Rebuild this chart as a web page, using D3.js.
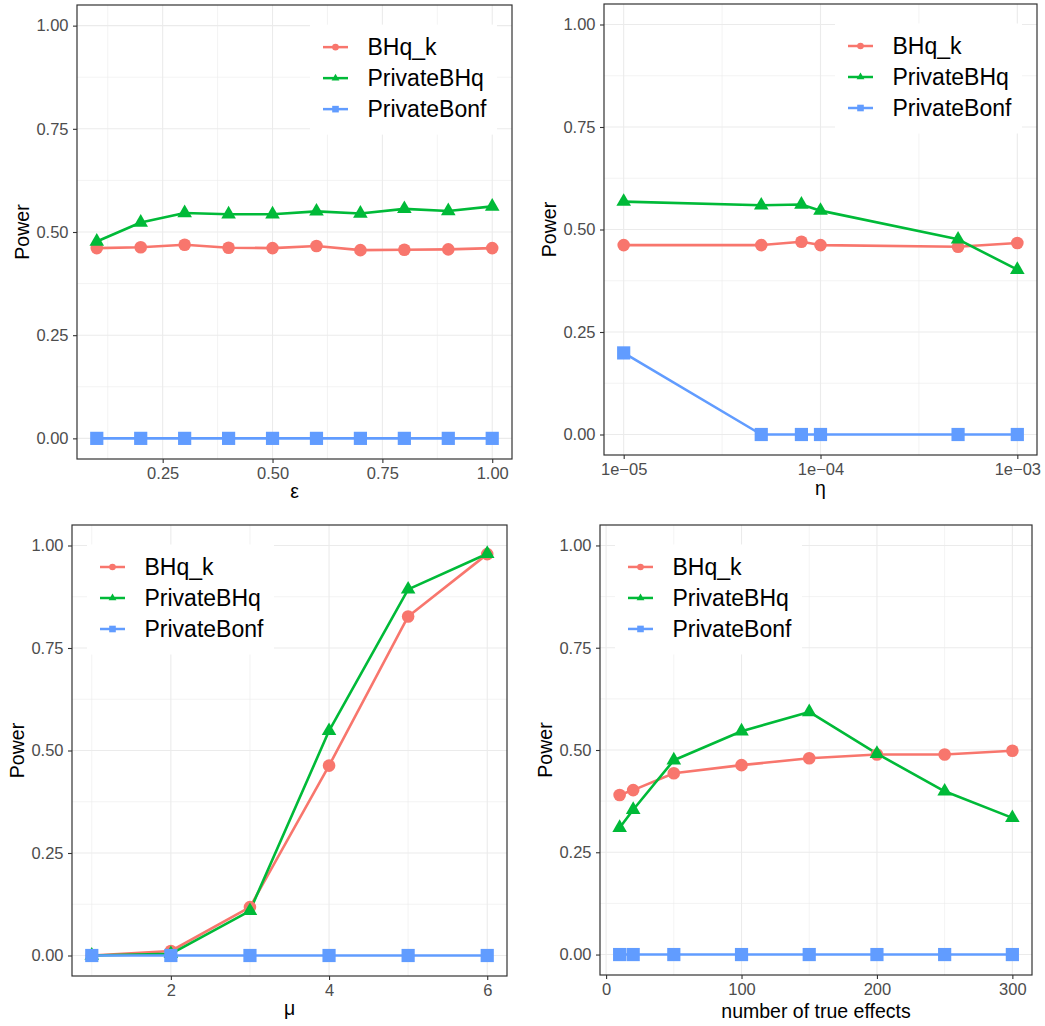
<!DOCTYPE html>
<html>
<head>
<meta charset="utf-8">
<script src="https://d3js.org/d3.v7.min.js"></script>
<style>
  body { margin: 0; background: #fff; }
  text { font-family: "Liberation Sans", Arial, Helvetica, sans-serif; }
</style>
</head>
<body>
<div id="vis"></div>

<script>

// series shared by all four panels
var seriesNames = ["BHq_k", "PrivateBHq", "PrivateBonf"];
var seriesColors = ["#F8766D", "#00BA38", "#619CFF"];
var seriesShapes = ["circle", "triangle", "square"];

// power axis
var powerTicks = [0, 0.25, 0.5, 0.75, 1];
var powerLabels = ["0.00", "0.25", "0.50", "0.75", "1.00"];

// panel 1 : epsilon
var epsX = [0.1, 0.2, 0.3, 0.4, 0.5, 0.6, 0.7, 0.8, 0.9, 1.0];
var epsBHqK = [0.461, 0.463, 0.469, 0.462, 0.461, 0.466, 0.456, 0.457, 0.458, 0.461];
var epsPrivateBHq = [0.477, 0.523, 0.546, 0.543, 0.543, 0.550, 0.545, 0.556, 0.551, 0.562];
var epsPrivateBonf = [0, 0, 0, 0, 0, 0, 0, 0, 0, 0];
var epsTicks = [0.25, 0.5, 0.75, 1.0];
var epsTickLabels = ["0.25", "0.50", "0.75", "1.00"];

// panel 2 : eta (log axis)
var etaX = [1e-5, 5e-5, 8e-5, 1e-4, 5e-4, 1e-3];
var etaBHqK = [0.462, 0.462, 0.470, 0.462, 0.458, 0.467];
var etaPrivateBHq = [0.568, 0.559, 0.561, 0.546, 0.476, 0.402];
var etaPrivateBonf = [0.199, 0, 0, 0, 0, 0];
var etaTicks = [1e-5, 1e-4, 1e-3];
var etaTickLabels = ["1e\u221205", "1e\u221204", "1e\u221203"];

// panel 3 : mu
var muX = [1, 2, 3, 4, 5, 6];
var muBHqK = [0, 0.011, 0.118, 0.463, 0.827, 0.979];
var muPrivateBHq = [0, 0.004, 0.109, 0.548, 0.893, 0.980];
var muPrivateBonf = [0, 0, 0, 0, 0, 0];
var muTicks = [2, 4, 6];
var muTickLabels = ["2", "4", "6"];

// panel 4 : number of true effects
var nX = [10, 20, 50, 100, 150, 200, 250, 300];
var nBHqK = [0.390, 0.402, 0.443, 0.463, 0.480, 0.489, 0.489, 0.498];
var nPrivateBHq = [0.310, 0.354, 0.475, 0.546, 0.593, 0.491, 0.399, 0.334];
var nPrivateBonf = [0, 0, 0, 0, 0, 0, 0, 0];
var nTicks = [0, 100, 200, 300];
var nTickLabels = ["0", "100", "200", "300"];


// layout of the 2x2 grid
var panels = [
  {x: epsX, ys: [epsBHqK, epsPrivateBHq, epsPrivateBonf], ticks: epsTicks, labels: epsTickLabels,
   title: "\u03b5", log: false, left: 77, right: 512, top: 5, bottom: 459, legend: "right", titleDy: 39},
  {x: etaX, ys: [etaBHqK, etaPrivateBHq, etaPrivateBonf], ticks: etaTicks, labels: etaTickLabels,
   title: "\u03b7", log: true, left: 604, right: 1037, top: 4, bottom: 455, legend: "right", titleDy: 39.5},
  {x: muX, ys: [muBHqK, muPrivateBHq, muPrivateBonf], ticks: muTicks, labels: muTickLabels,
   title: "\u03bc", log: false, left: 72, right: 507, top: 525, bottom: 976, legend: "left", titleDy: 39},
  {x: nX, ys: [nBHqK, nPrivateBHq, nPrivateBonf], ticks: nTicks, labels: nTickLabels,
   title: "number of true effects", log: false, left: 600, right: 1032, top: 525, bottom: 975, legend: "left", titleDy: 43}
];

var svg = d3.select("#vis").append("svg")
  .attr("width", 1045)
  .attr("height", 1026);


function markerPath(shape, s) {
  if (shape === "circle") return d3.symbol(d3.symbolCircle, Math.PI * s * s)();
  if (shape === "square") return d3.symbol(d3.symbolSquare, 4 * s * s)();
  // filled triangle, centroid on the point (like R pch 17)
  var r = s * 2 / Math.sqrt(3);
  return "M0," + (-r) + "L" + s + "," + (r / 2) + "L" + (-s) + "," + (r / 2) + "Z";
}

// minor breaks sit half way between major ones (geometric mean on log axis)
function minorBreaks(ticks, log, domain) {
  var out = [];
  var all = [];
  var step = log ? ticks[1] / ticks[0] : ticks[1] - ticks[0];
  all.push(log ? ticks[0] / step : ticks[0] - step);
  ticks.forEach(function(t) { all.push(t); });
  all.push(log ? ticks[ticks.length - 1] * step : ticks[ticks.length - 1] + step);
  for (var i = 0; i < all.length - 1; i++) {
    var m = log ? Math.sqrt(all[i] * all[i + 1]) : (all[i] + all[i + 1]) / 2;
    if (m >= domain[0] && m <= domain[1]) out.push(m);
  }
  return out;
}


panels.forEach(function(p) {
  var g = svg.append("g");

  var y = d3.scaleLinear().domain([-0.05, 1.05]).range([p.bottom, p.top]);

  var ext = d3.extent(p.x);
  var x;
  if (p.log) {
    var lo = Math.log10(ext[0]), hi = Math.log10(ext[1]), lpad = (hi - lo) * 0.05;
    x = d3.scaleLog().domain([Math.pow(10, lo - lpad), Math.pow(10, hi + lpad)]).range([p.left, p.right]);
  } else {
    var pad = (ext[1] - ext[0]) * 0.05;
    x = d3.scaleLinear().domain([ext[0] - pad, ext[1] + pad]).range([p.left, p.right]);
  }

  // background grid
  var xMinor = minorBreaks(p.ticks, p.log, x.domain());
  var yMinor = minorBreaks(powerTicks, false, y.domain());

  g.selectAll("line.xminor").data(xMinor).enter().append("line")
    .attr("x1", function(d) { return x(d); }).attr("x2", function(d) { return x(d); })
    .attr("y1", p.top).attr("y2", p.bottom)
    .attr("stroke", "#EBEBEB").attr("stroke-width", 0.6);
  g.selectAll("line.yminor").data(yMinor).enter().append("line")
    .attr("x1", p.left).attr("x2", p.right)
    .attr("y1", function(d) { return y(d); }).attr("y2", function(d) { return y(d); })
    .attr("stroke", "#EBEBEB").attr("stroke-width", 0.6);
  g.selectAll("line.xmajor").data(p.ticks.filter(function(t) { return t >= x.domain()[0] && t <= x.domain()[1]; }))
    .enter().append("line")
    .attr("x1", function(d) { return x(d); }).attr("x2", function(d) { return x(d); })
    .attr("y1", p.top).attr("y2", p.bottom)
    .attr("stroke", "#EBEBEB").attr("stroke-width", 1.1);
  g.selectAll("line.ymajor").data(powerTicks).enter().append("line")
    .attr("x1", p.left).attr("x2", p.right)
    .attr("y1", function(d) { return y(d); }).attr("y2", function(d) { return y(d); })
    .attr("stroke", "#EBEBEB").attr("stroke-width", 1.1);

  // legend box (drawn under the data, over the grid)
  var lgW = 187, lgH = 110;
  var lgLeft = p.legend === "right" ? p.right - 15 - lgW : p.left + 15;
  var lgTop = y(1) - 1;
  var lg = g.append("g").attr("transform", "translate(" + lgLeft + "," + lgTop + ")");
  lg.append("rect").attr("width", lgW).attr("height", lgH).attr("fill", "#fff");

  seriesNames.forEach(function(name, i) {
    var cy = 22.5 + i * 31;
    lg.append("line")
      .attr("x1", 13).attr("x2", 38).attr("y1", cy).attr("y2", cy)
      .attr("stroke", seriesColors[i]).attr("stroke-width", 2.5);
    lg.append("path")
      .attr("d", markerPath(seriesShapes[i], seriesShapes[i] === "triangle" ? 3.9 : 3.3))
      .attr("transform", "translate(25.5," + cy + ")")
      .attr("fill", seriesColors[i]);
    lg.append("text")
      .attr("x", 57.5).attr("y", cy).attr("dy", "0.36em")
      .attr("font-size", 23).attr("fill", "#000")
      .text(name);
  });

  // lines first, then points (ggplot order)
  var line = d3.line()
    .x(function(d) { return x(d[0]); })
    .y(function(d) { return y(d[1]); });

  p.ys.forEach(function(vals, i) {
    var pts = p.x.map(function(v, j) { return [v, vals[j]]; });
    g.append("path").datum(pts)
      .attr("d", line)
      .attr("fill", "none")
      .attr("stroke", seriesColors[i])
      .attr("stroke-width", 2.6)
      .attr("stroke-linejoin", "round");
  });

  p.ys.forEach(function(vals, i) {
    var pts = p.x.map(function(v, j) { return [v, vals[j]]; });
    var size = seriesShapes[i] === "triangle" ? 7.3 : (seriesShapes[i] === "square" ? 6.6 : 6.3);
    g.selectAll("path.pt" + i).data(pts).enter().append("path")
      .attr("class", "pt" + i)
      .attr("d", markerPath(seriesShapes[i], size))
      .attr("transform", function(d) { return "translate(" + x(d[0]) + "," + y(d[1]) + ")"; })
      .attr("fill", seriesColors[i]);
  });

  // axes
  var xAxis = d3.axisBottom(x)
    .tickValues(p.ticks)
    .tickFormat(function(d, i) { return p.labels[i]; })
    .tickSize(4).tickPadding(4.5);
  var yAxis = d3.axisLeft(y)
    .tickValues(powerTicks)
    .tickFormat(function(d, i) { return powerLabels[i]; })
    .tickSize(4).tickPadding(4.5);

  var gx = g.append("g").attr("transform", "translate(0," + p.bottom + ")").call(xAxis);
  var gy = g.append("g").attr("transform", "translate(" + p.left + ",0)").call(yAxis);
  [gx, gy].forEach(function(a) {
    a.select(".domain").remove();
    a.selectAll(".tick line").attr("stroke", "#333333").attr("stroke-width", 1.1);
    a.selectAll(".tick text")
      .attr("fill", "#4D4D4D")
      .style("font-size", "16.5px")
      .style("font-family", '"Liberation Sans", Arial, sans-serif');
  });

  // panel border on top
  g.append("rect")
    .attr("x", p.left).attr("y", p.top)
    .attr("width", p.right - p.left).attr("height", p.bottom - p.top)
    .attr("fill", "none").attr("stroke", "#333333").attr("stroke-width", 1.2);

  // axis titles
  g.append("text")
    .attr("x", (p.left + p.right) / 2).attr("y", p.bottom + p.titleDy)
    .attr("text-anchor", "middle").attr("font-size", 19.5).attr("fill", "#000")
    .text(p.title);

  g.append("text")
    .attr("transform", "translate(" + (p.left - 48.5) + "," + ((p.top + p.bottom) / 2) + ") rotate(-90)")
    .attr("text-anchor", "middle").attr("font-size", 19.5).attr("fill", "#000")
    .text("Power");
});

</script>
</body>
</html>
